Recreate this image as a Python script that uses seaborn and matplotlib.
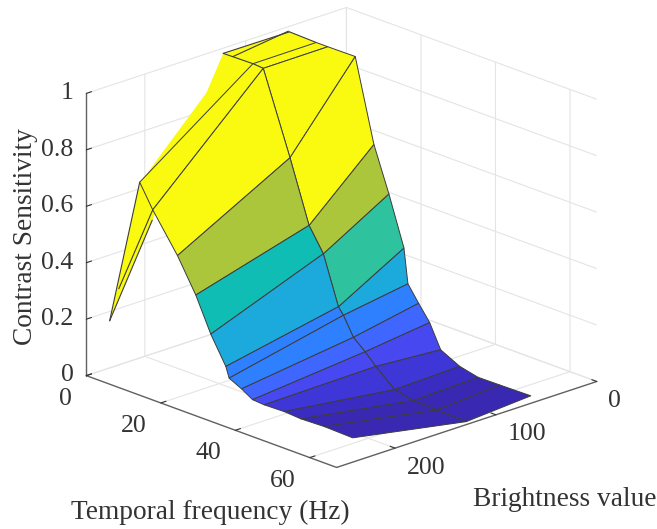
import numpy as np
import seaborn as sns
import matplotlib
matplotlib.use('Agg')
from matplotlib import pyplot as plt

# brightness of the three columns of the mesh
col_b = [238, 126, 60]

# mesh rows, near / mid / far column
near_f = [8.92, 12.42, 19.06, 23.98, 28.0, 32.04, 32.93, 36.26, 39.22, 42.34, 47.72, 52.2, 58.47, 66.1]
near_z = [0.705, 0.624, 0.494, 0.378, 0.259, 0.164, 0.127, 0.105, 0.081, 0.078, 0.08, 0.076, 0.079, 0.076]
mid_f = [9.0, 11.77, 18.95, 24.06, 27.9, 31.94, 33.28, 35.97, 39.11, 41.99, 46.99, 52.1, 58.39, 66.26]
mid_z = [0.993, 0.99, 0.708, 0.493, 0.411, 0.243, 0.219, 0.154, 0.118, 0.08, 0.022, 0.008, 0.005, 0.002]
far_f = [8.12, 11.24, 18.6, 23.6, 27.63, 31.67, 32.74, 35.62, 38.58, 41.53, 46.64, 51.56, 57.39, 65.73]
far_z = [0.986, 0.986, 0.987, 0.7, 0.544, 0.372, 0.25, 0.195, 0.141, 0.059, 0.025, 0.01, 0.011, 0.013]

# first row of the mesh (low frequency end)
first_f = [0.86, 1.02, 0.94]
first_z = [0.175, 0.991, 0.989]
# extra row seen only on the far half
second_f = [3.6, 0.65]
second_z = [0.992, 0.99]

# back of the ridge, no edges there
ridge_b = [218, 168, 126, 126]
ridge_f = [4.54, 8.09, 9.0, 1.02]
ridge_z = [0.679, 0.943, 0.993, 0.991]

# line on the sliver under the ridge
sliver_f = [3.3, 12.42]
sliver_z = [0.3, 0.624]
# lower edge of the sliver
lower_b = [238, 196]
lower_f = [0.86, 0.92]
lower_z = [0.175, 0.482]

band_colors = ['#F9FA0F', '#ABC63A', '#0FBDB5', '#1CA9DB', '#2EC29E', '#2E80FF', '#3F66FF',
               '#4848F0', '#3E36D6', '#3A2CC0', '#3828B2']
left_bands = [0, 0, 1, 2, 3, 5, 5, 6, 7, 8, 9, 10, 10]
right_bands = [0, 0, 0, 1, 4, 3, 5, 6, 7, 8, 9, 10, 10]

f_ticks = [0, 20, 40, 60]
b_ticks = [0, 100, 200]
z_ticks = [0, 0.2, 0.4, 0.6, 0.8, 1]
z_ticklabels = ['0', '0.2', '0.4', '0.6', '0.8', '1']

sns.set_theme(style='white')
plt.rcParams['font.family'] = 'Liberation Serif'

fig = plt.figure(figsize=(6.57, 5.29), dpi=100)
ax = fig.add_axes([69.9 / 657, 19.9 / 529, 529 / 657, 1], projection='3d', proj_type='ortho')
ax.computed_zorder = False
ax.patch.set_alpha(0)

ax.set_xlim(0, 258, view_margin=0)
ax.set_ylim(0, 67.2, view_margin=0)
ax.set_zlim(0, 1, view_margin=0)
ax.set_box_aspect((361, 366, 303), zoom=1.088)
ax.view_init(elev=20.37, azim=46.5)

palette = sns.color_palette(band_colors)
edge = '#3c3c3c'

X = np.tile(col_b, (len(near_f), 1))
Y = np.column_stack([near_f, mid_f, far_f])
Z = np.column_stack([near_z, mid_z, far_z])
colors = np.array([[palette[l], palette[r]] for l, r in zip(left_bands, right_bands)])

# low frequency part, drawn first so the main mesh hides it
top_y = np.array([first_f, [near_f[0], mid_f[0], far_f[0]]])
top_z = np.array([first_z, [near_z[0], mid_z[0], far_z[0]]])
top_x = np.tile(col_b, (2, 1))
yellow = palette[0]
ax.plot_surface(top_x, top_y, top_z, color=yellow, shade=False, linewidth=0, rstride=1, cstride=1, zorder=1)
ax.plot_surface(np.array([[ridge_b[0], ridge_b[1]], [ridge_b[2], ridge_b[3]]]),
                np.array([[ridge_f[0], ridge_f[1]], [ridge_f[2], ridge_f[3]]]),
                np.array([[ridge_z[0], ridge_z[1]], [ridge_z[2], ridge_z[3]]]),
                color=yellow, shade=False, linewidth=0, rstride=1, cstride=1, zorder=1)

line_kw = dict(color=edge, lw=0.8, zorder=2)
ax.plot([col_b[0], col_b[0]], [first_f[0], near_f[0]], [first_z[0], near_z[0]], **line_kw)
ax.plot(col_b[1:], first_f[1:], first_z[1:], **line_kw)
ax.plot(col_b[1:], second_f, second_z, **line_kw)
ax.plot([col_b[1], col_b[1]], [first_f[1], mid_f[0]], [first_z[1], mid_z[0]], **line_kw)
ax.plot([col_b[2], col_b[2]], [first_f[2], far_f[0]], [first_z[2], far_z[0]], **line_kw)
ax.plot([col_b[0], col_b[0]], sliver_f, sliver_z, **line_kw)
ax.plot(lower_b, lower_f, lower_z, **line_kw)

ax.plot_surface(X, Y, Z, facecolors=colors, shade=False, edgecolor=edge, linewidth=0.7,
                rstride=1, cstride=1, zorder=3)

ax.set_xticks(b_ticks)
ax.set_yticks(f_ticks)
ax.set_zticks(z_ticks)
ax.set_zticklabels(z_ticklabels)

for axis in (ax.xaxis, ax.yaxis, ax.zaxis):
    axis.set_pane_color((1, 1, 1, 1))
    axis.pane.set_edgecolor('none')
    axis.line.set_color('#606060')
    axis.line.set_linewidth(1.0)
    axis._axinfo['grid'].update(color='#e4e4e4', linewidth=0.8)
    axis._axinfo['tick'].update(inward_factor=0, outward_factor=0.25)
    axis._axinfo['tick']['color'] = '#606060'
    axis._axinfo['tick']['linewidth'] = {True: 0.8, False: 0.8}

ax.tick_params(axis='both', labelsize=18.5, colors='#333333')
ax.tick_params(axis='x', pad=1)
ax.tick_params(axis='y', pad=3)
ax.tick_params(axis='z', pad=-3)
for lab in ax.get_xticklabels():
    lab.set_ha('left')
    lab.set_va('center_baseline')
for lab in ax.get_yticklabels():
    lab.set_ha('right')
    lab.set_va('center_baseline')
for lab in ax.get_zticklabels():
    lab.set_ha('right')
    lab.set_va('center')

fig.text(210 / 657, 1 - 512 / 529, 'Temporal frequency (Hz)', fontsize=19.7, color='#333333', ha='center', va='center')
fig.text(565 / 657, 1 - 500 / 529, 'Brightness value', fontsize=19.7, color='#333333', ha='center', va='center')
fig.text(26 / 657, 1 - 237 / 529, 'Contrast Sensitivity', fontsize=19.7, color='#333333', rotation=90, ha='center', va='center')

fig.savefig('out.png', dpi=100)
